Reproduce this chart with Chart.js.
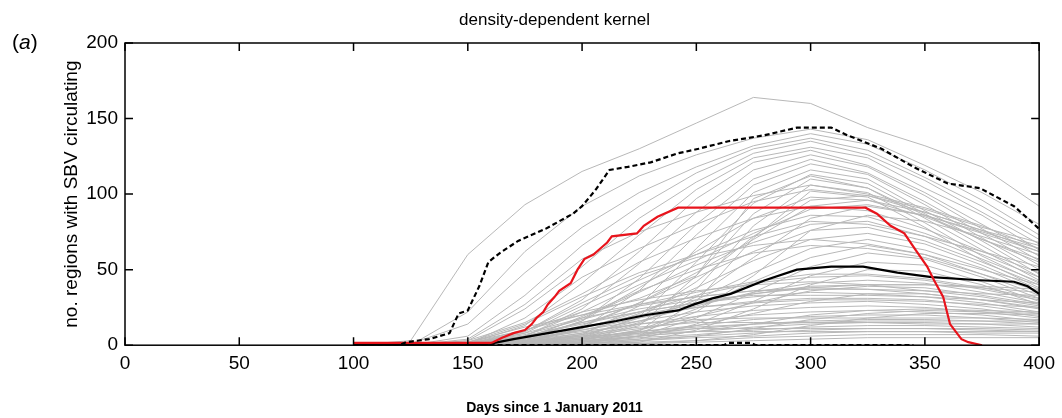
<!DOCTYPE html>
<html>
<head>
<meta charset="utf-8">
<script src="https://cdn.jsdelivr.net/npm/chart.js@4.4.1/dist/chart.umd.min.js"></script>
<style>
  html, body { margin: 0; padding: 0; background: #fff; }
  #wrap { position: relative; width: 1062px; height: 418px; }
  #panel { position: absolute; left: 12px; top: 30px; font: 21px "Liberation Sans", Arial, sans-serif; color: #000; }
</style>
</head>
<body>
<div id="wrap">
  <canvas id="c" width="1062" height="418"></canvas>
  <div id="panel">(<i>a</i>)</div>
</div>
<script>
// ---- data ----
const xTicks = [0, 50, 100, 150, 200, 250, 300, 350, 400];
const yTicks = [0, 50, 100, 150, 200];

// red (single example run)
const redDays = [100,160,161,165,170,175,178,180,183,185,188,190,195,198,201,205,208,211,213,224,227,233,242,324,329,335,341,346,351,354,358,361,366,369,375];
const redVals = [1.5,1.5,2,5,8,10,14,18,22,27,32,36,41,50,57,60,64,68,72,74,79,85,91,91,87,79,74,63,52,43,32,14,4,2,0];

// upper percentile (dashed)
const upperDays = [100,120,123,133,142,146,150,155,159,164,172,184,196,200,206,212,220,230,242,251,264,280,294,309,316,331,345,360,374,389,400];
const upperVals = [0,0,2,4,8,21,23,39,55,61,69,77,87,92,103,116,118,121,127,130,135,139,144,144,139,130,118,107,104,92,77];

// lower percentile (dashed)
const lowerDays = [100,262,264,274,276,345];
const lowerVals = [0,0,1.5,1.5,0,0];

// median (solid black)
const medianDays = [100,150,160,170,185,200,215,228,242,249,257,265,280,294,309,323,338,353,374,389,395,400];
const medianVals = [0,0,1,4,8,12,16,20,23,27,31,34,43,50,52,52,48,45,43,42,39,34];

// individual simulations (grey), sampled at greyDays
const greyDays = [100,125,150,175,200,225,250,275,300,325,350,375,400];
const g01 = [0, 3, 60, 93,115,130,147,164,160,144,132,118, 92];
const g02 = [0, 0, 22, 62, 92,112,126,137,143,136,119,101, 80];
const g03 = [0, 1, 14, 48, 78,101,118,132,140,133,116, 96, 73];
const g04 = [0, 0,  6, 33, 66, 92,114,130,137,129,111, 92, 70];
const g05 = [0, 0,  3, 24, 52, 84,108,127,135,126,109, 88, 67];
const g06 = [0, 0,  1, 13, 41, 73,103,124,131,124,104, 86, 63];
const g07 = [0, 0,  0,  9, 30, 62, 97,121,129,119,101, 80, 59];
const g08 = [0, 0,  0,  6, 24, 54, 88,116,126,118, 99, 77, 56];
const g09 = [0, 0,  0,  4, 16, 44, 80,110,123,114, 95, 74, 53];
const g10 = [0, 0,  0,  2, 11, 36, 73,106,120,113, 93, 71, 50];
const g11 = [0, 0,  0,  1,  7, 26, 64,101,116,110, 89, 69, 47];
const g12 = [0, 0,  0,  1,  5, 19, 55, 94,113,107, 87, 66, 45];
const g13 = [0, 0,  0,  0,  3, 13, 46, 87,110,104, 84, 63, 43];
const g14 = [0, 0,  0,  0,  2,  9, 37, 79,106,101, 81, 59, 41];
const g15 = [0, 0,  0,  0,  1,  6, 29, 71,102, 98, 78, 56, 38];
const g16 = [0, 0,  2, 12, 20, 31, 46, 97,112,104, 86, 70, 57];
const g17 = [0, 0,  4, 27, 57, 75, 88, 99,106,100, 91, 79, 64];
const g18 = [0, 0,  1, 18, 45, 64, 80, 95,103, 99, 88, 76, 62];
const g19 = [0, 0,  3, 15, 34, 55, 71, 84, 92, 89, 77, 62, 48];
const g20 = [0, 0,  0,  8, 26, 43, 60, 76, 86, 85, 74, 60, 45];
const g21 = [0, 0,  0,  5, 18, 35, 53, 68, 80, 82, 72, 57, 42];
const g22 = [0, 0,  0,  3, 13, 28, 45, 62, 76, 78, 69, 55, 40];
const g23 = [0, 0,  0,  2,  8, 21, 38, 56, 70, 74, 67, 53, 37];
const g24 = [0, 0,  0,  1,  5, 15, 30, 48, 64, 70, 63, 51, 35];
const g25 = [0, 0,  0,  0,  3, 10, 24, 42, 58, 66, 60, 47, 33];
const g26 = [0, 0,  0,  0,  2,  6, 18, 35, 52, 61, 57, 45, 31];
const g27 = [0, 0,  0,  0,  1,  4, 14, 29, 46, 55, 53, 42, 29];
const g28 = [0, 0,  0,  0,  0,  2, 10, 24, 40, 50, 49, 40, 27];
const g29 = [0, 0,  1,  9, 28, 46, 58, 66, 70, 67, 60, 50, 40];
const g30 = [0, 0,  0,  4, 19, 36, 50, 61, 66, 64, 58, 47, 36];
const g31 = [0, 0,  2, 10, 22, 30, 36, 40, 42, 40, 36, 32, 26];
const g32 = [0, 0,  1,  8, 18, 26, 32, 36, 38, 37, 34, 30, 24];
const g33 = [0, 0,  1,  6, 15, 22, 28, 32, 35, 34, 32, 28, 22];
const g34 = [0, 0,  0,  5, 12, 19, 25, 29, 31, 31, 30, 26, 21];
const g35 = [0, 0,  0,  4, 10, 16, 22, 26, 28, 29, 27, 24, 19];
const g36 = [0, 0,  0,  3,  8, 14, 19, 23, 25, 26, 25, 22, 18];
const g37 = [0, 0,  0,  2,  6, 11, 16, 20, 22, 23, 22, 20, 16];
const g38 = [0, 0,  0,  2,  5,  9, 13, 17, 19, 20, 20, 18, 15];
const g39 = [0, 0,  0,  1,  4,  7, 11, 14, 16, 17, 17, 16, 14];
const g40 = [0, 0,  0,  1,  3,  6,  9, 12, 14, 15, 15, 14, 12];
const g41 = [0, 0,  0,  1,  2,  5,  7, 10, 12, 13, 13, 12, 11];
const g42 = [0, 0,  0,  0,  2,  4,  6,  8, 10, 11, 11, 10,  9];
const g43 = [0, 0,  0,  0,  1,  3,  5,  6,  8,  9,  9,  8,  8];
const g44 = [0, 0,  0,  0,  1,  2,  3,  5,  6,  7,  7,  7,  6];
const g45 = [0, 0,  0,  0,  0,  1,  2,  3,  4,  5,  5,  5,  5];
const g46 = [0, 0,  1,  7, 17, 27, 35, 42, 47, 47, 44, 38, 31];
const g47 = [0, 0,  0,  3, 11, 22, 33, 41, 45, 46, 43, 37, 30];
const g48 = [0, 0,  0,  2,  7, 16, 26, 35, 41, 43, 41, 35, 28];
const g49 = [0, 0,  0,  1,  4, 10, 19, 28, 36, 39, 38, 33, 27];
const g50 = [0, 0,  0,  0,  2,  6, 13, 21, 29, 34, 34, 30, 25];
const g51 = [0, 0,  0,  4,  9, 14, 17, 18, 18, 18, 18, 18, 17];
const g52 = [0, 0,  0,  2,  7, 12, 15, 15, 15, 15, 14, 14, 14];
const g53 = [0, 0,  0,  6, 15, 24, 30, 33, 33, 33, 32, 30, 28];
const g54 = [0, 0,  1, 10, 20, 27, 32, 36, 37, 37, 36, 34, 33];
const g55 = [0, 0,  0,  1,  4,  8, 11, 11, 11, 11, 11, 11, 10];
const g56 = [0, 0,  0,  3,  6,  8,  9,  9,  9,  9,  9,  9,  9];
const g57 = [0, 0,  0,  2, 10, 18, 25, 28, 30, 30, 29, 27, 25];
const g58 = [0, 0,  0,  5, 12, 20, 27, 34, 39, 40, 40, 38, 35];
const g59 = [0, 0,  0,  1,  3,  6,  9, 14, 20, 23, 24, 23, 22];
const g60 = [0, 0,  0,  0,  1,  3,  6, 11, 17, 21, 23, 22, 21];
const g61 = [0, 0,  0,  0,  0,  1,  3,  7, 13, 18, 21, 21, 20];
const g62 = [0, 0,  2, 14, 32, 48, 60, 72, 82, 80, 72, 62, 52];
const g63 = [0, 0,  0,  6, 22, 40, 56, 74, 90, 93, 86, 74, 62];
const g64 = [0, 0,  0,  2, 12, 28, 48, 70, 92, 96, 88, 76, 66];
const g65 = [0, 0,  0,  0,  4, 14, 32, 58, 84, 92, 86, 75, 64];
const g66 = [0, 0,  0,  1,  6, 18, 42, 72, 96, 99, 90, 78, 68];
const g67 = [0, 0,  0,  0,  2,  8, 22, 46, 76, 86, 82, 72, 60];
const g68 = [0, 0,  0,  3, 16, 38, 62, 84, 98, 96, 85, 70, 55];
const g69 = [0, 0,  1,  6, 14, 22, 28, 34, 38, 40, 40, 39, 37];
const g70 = [0, 0,  0,  2,  5,  9, 12, 14, 15, 16, 16, 16, 16];
const greySeries = [g01,g02,g03,g04,g05,g06,g07,g08,g09,g10,g11,g12,g13,g14,g15,g16,g17,g18,g19,g20,
  g21,g22,g23,g24,g25,g26,g27,g28,g29,g30,g31,g32,g33,g34,g35,g36,g37,g38,g39,g40,
  g41,g42,g43,g44,g45,g46,g47,g48,g49,g50,g51,g52,g53,g54,g55,g56,g57,g58,g59,g60,
  g61,g62,g63,g64,g65,g66,g67,g68,g69,g70];

// ---- build ----
const pts = (xs, ys) => xs.map((x, i) => ({x, y: ys[i]}));
const FONT = '"Liberation Sans", Arial, sans-serif';

const datasets = [
  {data: pts(upperDays, upperVals), borderColor: '#000', borderWidth: 2.2, borderDash: [5, 3]},
  {data: pts(lowerDays, lowerVals), borderColor: '#000', borderWidth: 2.2, borderDash: [5, 3]},
  {data: pts(redDays, redVals), borderColor: '#e8141c', borderWidth: 2.2},
  {data: pts(medianDays, medianVals), borderColor: '#000', borderWidth: 2.2}
];
greySeries.forEach(s => datasets.push({data: pts(greyDays, s), borderColor: '#b8b8b8', borderWidth: 1}));

const frame = {
  id: 'frame',
  afterDatasetsDraw(chart) {
    const {ctx, chartArea: a, scales} = chart;
    ctx.save();
    ctx.strokeStyle = '#000';
    ctx.lineWidth = 1.5;
    ctx.strokeRect(a.left, a.top, a.right - a.left, a.bottom - a.top);
    const L = 8;
    ctx.beginPath();
    scales.x.ticks.forEach(t => {
      const px = scales.x.getPixelForValue(t.value);
      ctx.moveTo(px, a.bottom); ctx.lineTo(px, a.bottom - L);
      ctx.moveTo(px, a.top); ctx.lineTo(px, a.top + L);
    });
    scales.y.ticks.forEach(t => {
      const py = scales.y.getPixelForValue(t.value);
      ctx.moveTo(a.left, py); ctx.lineTo(a.left + L, py);
      ctx.moveTo(a.right, py); ctx.lineTo(a.right - L, py);
    });
    ctx.stroke();
    ctx.restore();
  }
};

new Chart(document.getElementById('c'), {
  type: 'line',
  data: {datasets},
  plugins: [frame],
  options: {
    responsive: false,
    animation: false,
    elements: {point: {radius: 0}, line: {tension: 0, borderCapStyle: 'butt'}},
    layout: {padding: {left: 55, right: 8, top: 0, bottom: 0}},
    plugins: {
      legend: {display: false},
      tooltip: {enabled: false},
      title: {display: true, text: 'density-dependent kernel', color: '#000',
        font: {family: FONT, size: 17, weight: 'normal'}, padding: {top: 10, bottom: 12.6}},
      subtitle: {display: true, position: 'bottom', text: 'Days since 1 January 2011', color: '#000',
        font: {family: FONT, size: 14, weight: 'bold'}, padding: {top: 0, bottom: 1}}
    },
    scales: {
      x: {
        type: 'linear', min: 0, max: 400,
        afterBuildTicks: s => { s.ticks = xTicks.map(v => ({value: v})); },
        afterFit: s => { s.height = 55; },
        grid: {display: false, drawTicks: false},
        border: {display: false},
        ticks: {color: '#000', padding: 7, font: {family: FONT, size: 19}, maxRotation: 0, autoSkip: false}
      },
      y: {
        type: 'linear', min: 0, max: 200,
        afterBuildTicks: s => { s.ticks = yTicks.map(v => ({value: v})); },
        afterFit: s => { s.width = 70; },
        grid: {display: false, drawTicks: false},
        border: {display: false},
        ticks: {color: '#000', padding: 7, font: {family: FONT, size: 19}},
        title: {display: true, text: 'no. regions with SBV circulating', color: '#000',
          font: {family: FONT, size: 19}, padding: {top: 5.6, bottom: 0}}
      },
      y2: {
        type: 'linear', position: 'right', min: 0, max: 200, display: true,
        afterFit: s => { s.width = 12; },
        grid: {display: false, drawTicks: false},
        border: {display: false},
        ticks: {display: false}
      }
    }
  }
});
</script>
</body>
</html>
